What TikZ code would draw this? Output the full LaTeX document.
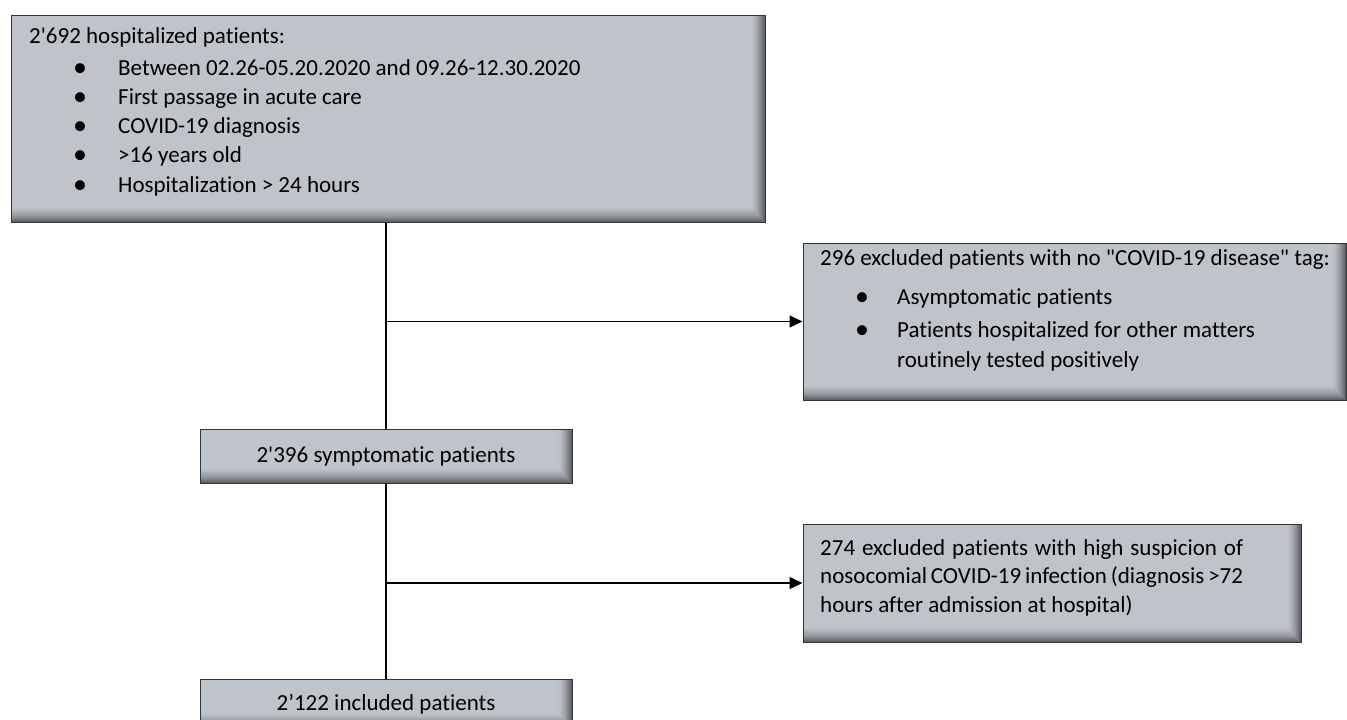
\documentclass[tikz,border=0pt]{standalone}
\usepackage{fontspec}
\setmainfont{Carlito}[Ligatures={NoCommon}]
\usetikzlibrary{arrows.meta,fit}
\definecolor{boxgray}{RGB}{191,196,202}
\definecolor{shadowgray}{RGB}{92,98,104}
\definecolor{edgegray}{RGB}{50,52,56}
\begin{document}
\begin{tikzpicture}[x=1pt,y=1pt,
  flowbox/.style={draw=edgegray, line width=1pt, fill=boxgray, inner sep=0pt,
    path picture={
      \foreach \i in {0,...,13}{
        \pgfmathsetmacro\pct{100*((\i+1)/14)^1.6}
        \fill[shadowgray!\pct!boxgray]
          ([xshift={(-14+\i)*1pt}]path picture bounding box.north east) rectangle
          (path picture bounding box.south east);
        \fill[shadowgray!\pct!boxgray]
          ([yshift={(14-\i)*1.07pt}]path picture bounding box.south west) rectangle
          (path picture bounding box.south east);
      }
    }},
  txt/.style={anchor=base west, inner sep=0pt, font=\fontsize{23}{28}\selectfont},
  ctxt/.style={anchor=base, inner sep=0pt, font=\fontsize{23}{28}\selectfont},
  bul/.style={anchor=base, inner sep=0pt, font=\fontsize{28}{28}\selectfont},
  conn/.style={line width=1.4pt, draw=black},
  arr/.style={conn, -{Triangle[length=13pt,width=12pt]}}
]
\useasboundingbox (0,0) rectangle (1347,-720);

% boxes
\node[flowbox, fit={(11,-15) (765,-222)}] (top) {};
\node[flowbox, fit={(803,-243) (1346,-400)}] (ex1) {};
\node[flowbox, fit={(200,-429) (572,-483)}] (sym) {};
\node[flowbox, fit={(803,-524) (1301,-642)}] (ex2) {};
\node[flowbox, fit={(200,-679) (572,-728)}] (inc) {};

% top box text
\node[txt] (t0) at (29,-43) {2\textquotesingle 692 hospitalized patients:};
\node[bul] (b1) at (80,-76) {•};
\node[txt] (t1) at (118,-75) {Between 02.26-05.20.2020 and 09.26-12.30.2020};
\node[bul] (b2) at (80,-105) {•};
\node[txt] (t2) at (118,-104) {First passage in acute care};
\node[bul] (b3) at (80,-134) {•};
\node[txt] (t3) at (118,-133) {COVID-19 diagnosis};
\node[bul] (b4) at (80,-163) {•};
\node[txt] (t4) at (118,-162) {>16 years old};
\node[bul] (b5) at (80,-193) {•};
\node[txt] (t5) at (118,-192) {Hospitalization > 24 hours};

% exclusion 1 text
\node[txt] (e0) at (820,-265) {296 excluded patients with no \textquotedbl COVID-19 disease\textquotedbl{} tag:};
\node[bul] (eb1) at (862,-305) {•};
\node[txt] (e1) at (897,-304) {Asymptomatic patients};
\node[bul] (eb2) at (862,-338) {•};
\node[txt] (e2) at (897,-337) {Patients hospitalized for other matters};
\node[txt] (e3) at (897,-367) {routinely tested positively};

% symptomatic
\node[ctxt] (s0) at (386,-462) {2\textquotesingle 396 symptomatic patients};

% exclusion 2 text
\node[txt] (f0) at (820,-555) {\makebox[423pt][s]{274 excluded patients with high suspicion of}};
\node[txt] (f1) at (820,-583) {\makebox[423pt][s]{nosocomial COVID-19 infection (diagnosis >72}};
\node[txt] (f2) at (820,-612) {hours after admission at hospital)};

% included
\node[ctxt] (i0) at (386,-710) {2’122 included patients};

% connectors
\coordinate (j1) at (sym.north |- ex1.west);
\coordinate (j2) at (sym.north |- ex2.west);
\draw[conn] (sym.north |- top.south) -- (sym.north);
\draw[arr] (j1) -- (ex1.west);
\draw[conn] (sym.south) -- (inc.north);
\draw[arr] (j2) -- (ex2.west);
\end{tikzpicture}
\end{document}
